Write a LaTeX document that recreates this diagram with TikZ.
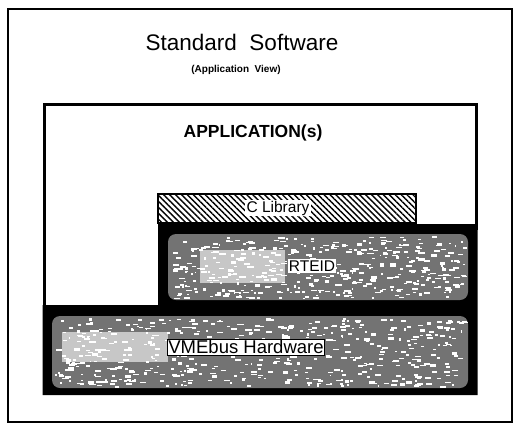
\documentclass[tikz,border=0pt]{standalone}
\usepackage{fontspec}
\setmainfont{Liberation Sans}
\usetikzlibrary{patterns.meta}

\begin{document}
\begin{tikzpicture}[x=1pt,y=-1pt,line join=miter]
  \tikzstyle{tag}=[fill=white,inner sep=1.2pt,text=black]
  \tikzstyle{layer}=[fill=black!55,rounded corners=8pt]

  \useasboundingbox (0,0) rectangle (518,429);
  \fill[white] (0,0) rectangle (518,429);

  % outer frame
  \draw[line width=2.6pt] (8,9) rectangle (512,422);

  \node (title) at (242,42) {\fontsize{22.5}{26}\selectfont Standard\ \ Software};
  \node (view)  at (236,70) {\fontsize{10}{12}\selectfont\bfseries (Application\ \ View)};

  % application box
  \draw[line width=3pt] (44,306) -- (44,104) -- (476,104) -- (476,230);
  \node (app) at (253,133) {\fontsize{17.5}{20}\selectfont\bfseries APPLICATION(s)};

  % dark part: RTEID and VMEbus layers
  \fill[black] (158,224) -- (477.5,224) -- (477.5,395) -- (42.5,395) -- (42.5,305)
    -- (158,305) -- cycle;
  \fill[layer] (168,234) rectangle (468,300);
  \fill[layer] (52,316) rectangle (468,388);
  \pgfmathsetseed{41}
  \foreach \i in {1,...,420}
    \fill[white] ({170+294*rnd},{236+62*rnd}) rectangle ++({1.5+5*rnd},{1+1.5*rnd});
  \foreach \i in {1,...,520}
    \fill[white] ({54+410*rnd},{318+68*rnd}) rectangle ++({1.5+5*rnd},{1+1.5*rnd});
  \fill[white,opacity=.6] (200,250) rectangle (285,283);
  \fill[white,opacity=.6] (62,332) rectangle (168,362);

  % C library bar
  \draw[line width=2pt,pattern={Lines[angle=-45,distance=4.2pt,line width=1.4pt]}]
    (158,194) rectangle (416,223);
  \node[tag] (lib) at (278,208) {\fontsize{15.5}{17}\selectfont C Library};

  \node[tag] (rteid) at (312,266) {\fontsize{15.5}{17}\selectfont RTEID};
  \node[tag,draw=black,line width=.8pt] (vme) at (246,347)
    {\fontsize{18.5}{20}\selectfont VMEbus Hardware};
\end{tikzpicture}
\end{document}
